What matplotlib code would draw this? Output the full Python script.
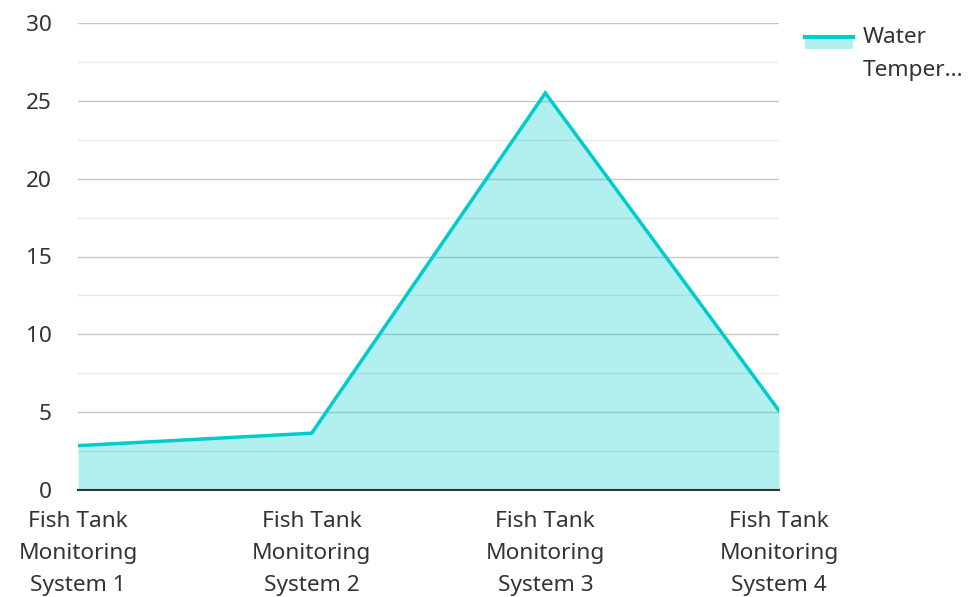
import matplotlib
matplotlib.use("Agg")
import matplotlib.pyplot as plt
from matplotlib.patches import Rectangle
from matplotlib.lines import Line2D
from matplotlib.legend_handler import HandlerBase

categories = ["Fish Tank\nMonitoring\nSystem 1", "Fish Tank\nMonitoring\nSystem 2",
              "Fish Tank\nMonitoring\nSystem 3", "Fish Tank\nMonitoring\nSystem 4"]
values = [2.85, 3.65, 25.5, 5.1]
series_name = "Water\nTemper..."
yticks = [0, 5, 10, 15, 20, 25, 30]

plt.rcParams['font.family'] = ['Noto Sans', 'DejaVu Sans']

W, H = 969, 597
fig = plt.figure(figsize=(W / 100, H / 100), dpi=100)
ax = fig.add_axes([78 / W, 1 - 490 / H, (779 - 78) / W, (490 - 23) / H])

line_c = "#00cccc"
fill_c = "#00cccc"
x = list(range(len(categories)))
ax.fill_between(x, values, 0, color=fill_c, alpha=0.3, lw=0, zorder=2)
ax.plot(x, values, color=line_c, lw=2.5, zorder=3, solid_joinstyle="miter")

ax.set_xlim(0, len(categories) - 1)
ax.set_ylim(0, 30)
ax.set_yticks(yticks)
ax.set_yticks([2.5 + 5 * i for i in range(6)], minor=True)
ax.grid(True, which="major", axis="y", color="#c8c8c8", lw=1, zorder=1)
ax.grid(True, which="minor", axis="y", color="#e8e8e8", lw=1, zorder=1)
ax.set_axisbelow(True)
for s in ["top", "right", "left"]:
    ax.spines[s].set_visible(False)
ax.spines["bottom"].set_color("#333333")
ax.spines["bottom"].set_linewidth(1.5)
ax.spines["bottom"].set_zorder(4)
ax.set_xticks(x)
ax.set_xticklabels(categories, linespacing=1.68)
ax.tick_params(axis="both", which="both", length=0, labelsize=16.3, colors="#333333")
ax.tick_params(axis="x", pad=15)
ax.tick_params(axis="y", pad=19)


class AreaHandler(HandlerBase):
    def create_artists(self, legend, orig_handle, xdescent, ydescent, width, height, fontsize, trans):
        ytop = 17.5 - ydescent
        ybot = 8.7 - ydescent
        rect = Rectangle((-xdescent, ybot), width, ytop - ybot,
                         facecolor=fill_c, alpha=0.3, edgecolor="none", transform=trans)
        ln = Line2D([-xdescent, -xdescent + width], [ytop, ytop],
                    color=line_c, lw=3, transform=trans)
        return [rect, ln]


dummy = Line2D([], [])
leg = fig.legend([dummy], [series_name], loc="upper left",
                 bbox_to_anchor=(785 / W, 1 - 7 / H), frameon=False,
                 fontsize=16.3, handlelength=2.1, handleheight=0.6, handletextpad=0.45,
                 handler_map={Line2D: AreaHandler()},
                 labelcolor="#333333")
for t in leg.get_texts():
    t.set_linespacing(1.7)

fig.savefig("out.png", dpi=100)
